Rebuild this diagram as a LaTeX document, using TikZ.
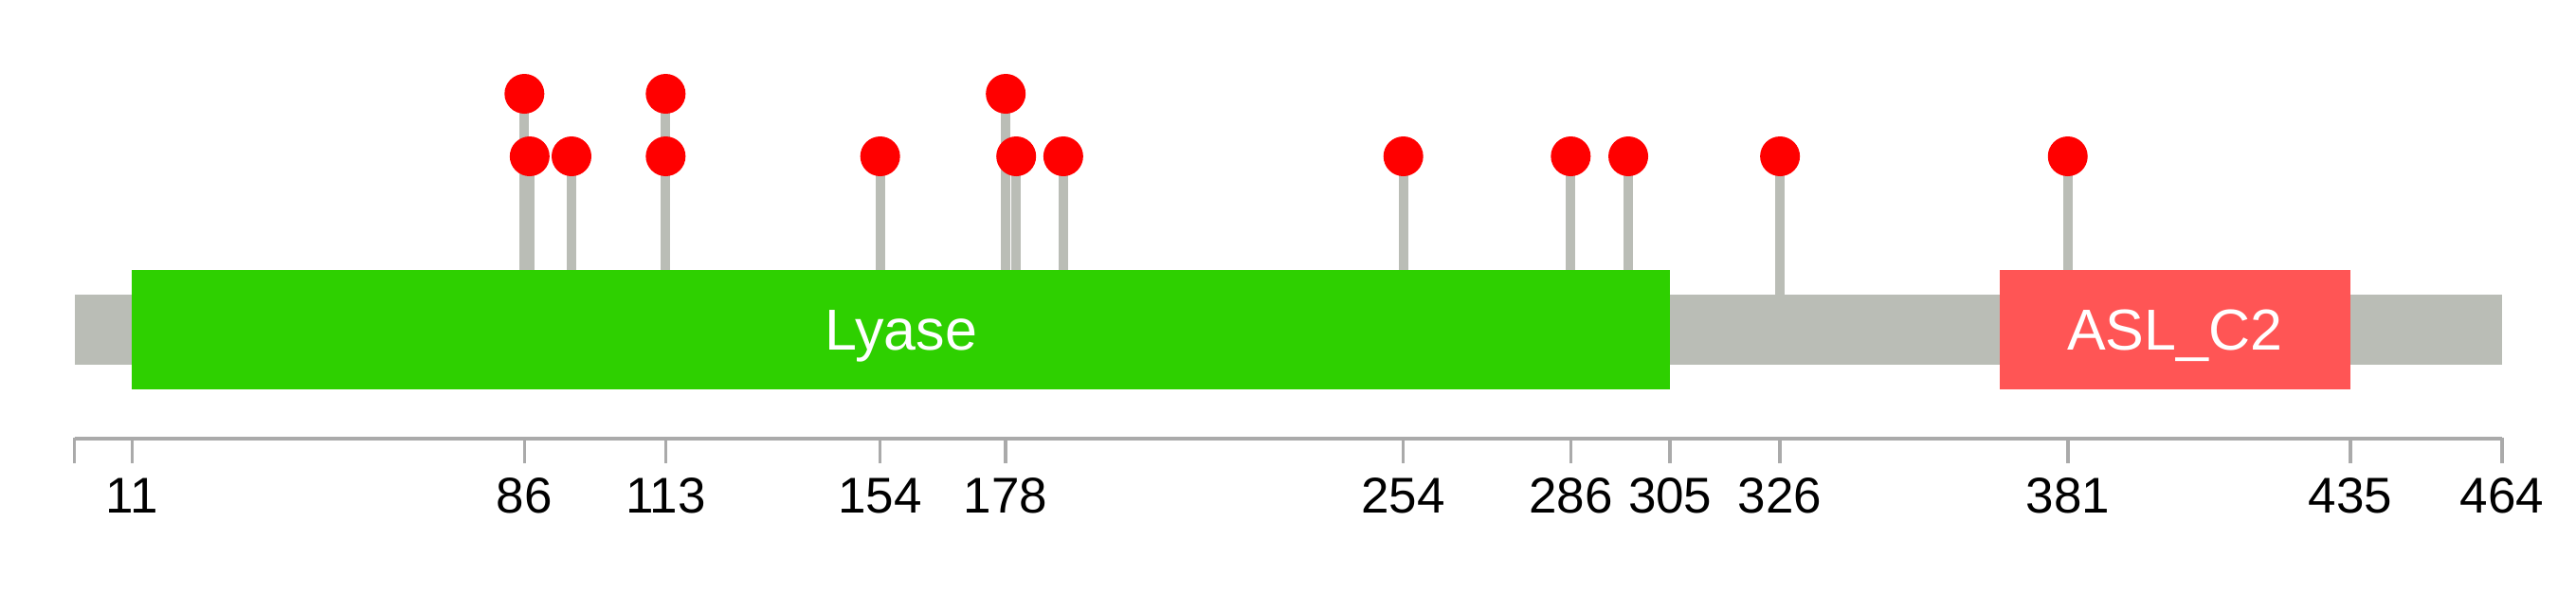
\documentclass[tikz,border=0pt]{standalone}
\usepackage{fontspec}
\setmainfont{Liberation Sans}
\usepackage{xcolor}
\usetikzlibrary{backgrounds}
\definecolor{backbone}{HTML}{BABDB6}
\definecolor{lyasegreen}{HTML}{2ED000}
\definecolor{aslred}{HTML}{FF5555}
\definecolor{axisgray}{HTML}{AAAAAA}

\begin{document}
\begin{tikzpicture}[x=2.76pt, y=-0.5pt]
	    \tikzstyle{mutdot}=[circle, fill=red, minimum size=21pt, inner sep=0pt]
	    \tikzstyle{stemline}=[draw, line width=5pt, backbone]
	    \tikzstyle{tickline}=[draw, line width=1.75pt, axisgray]
	    \tikzstyle{ticknum}=[font=\fontsize{26.5}{30}\selectfont, anchor=base, inner sep=0pt]
	    \tikzstyle{domname}=[font=\fontsize{30.5}{34}\selectfont, text=white, anchor=base, inner sep=0pt]
	    \useasboundingbox (-14.24,0) rectangle (478.15,645);
	    % mutations
	    \node[mutdot] (86) at (86,99) {};
	    \node[mutdot] (87) at (87,165) {};
	    \node[mutdot] (95) at (95,165) {};
	    \node[mutdot] (113a) at (113,99) {};
	    \node[mutdot] (113b) at (113,165) {};
	    \node[mutdot] (154) at (154,165) {};
	    \node[mutdot] (178) at (178,99) {};
	    \node[mutdot] (180) at (180,165) {};
	    \node[mutdot] (189) at (189,165) {};
	    \node[mutdot] (254) at (254,165) {};
	    \node[mutdot] (286) at (286,165) {};
	    \node[mutdot] (297) at (297,165) {};
	    \node[mutdot] (326) at (326,165) {};
	    \node[mutdot] (381) at (381,165) {};
	    \coordinate (f86) at (86,285);
	    \coordinate (f87) at (87,285);
	    \coordinate (f95) at (95,285);
	    \coordinate (f113) at (113,285);
	    \coordinate (f154) at (154,285);
	    \coordinate (f178) at (178,285);
	    \coordinate (f180) at (180,285);
	    \coordinate (f189) at (189,285);
	    \coordinate (f254) at (254,285);
	    \coordinate (f286) at (286,285);
	    \coordinate (f297) at (297,285);
	    \coordinate (f326) at (326,311);
	    \coordinate (f381) at (381,285);
	    \begin{scope}[on background layer]
	    \fill[backbone] (0,311) rectangle (464,385);
	    \fill[lyasegreen] (11,285) rectangle (305,411);
	    \fill[aslred] (368,285) rectangle (435,411);
	    \draw[stemline] (86.center) -- (f86);
	    \draw[stemline] (87.center) -- (f87);
	    \draw[stemline] (95.center) -- (f95);
	    \draw[stemline] (113a.center) -- (f113);
	    \draw[stemline] (113b.center) -- (f113);
	    \draw[stemline] (154.center) -- (f154);
	    \draw[stemline] (178.center) -- (f178);
	    \draw[stemline] (180.center) -- (f180);
	    \draw[stemline] (189.center) -- (f189);
	    \draw[stemline] (254.center) -- (f254);
	    \draw[stemline] (286.center) -- (f286);
	    \draw[stemline] (297.center) -- (f297);
	    \draw[stemline] (326.center) -- (f326);
	    \draw[stemline] (381.center) -- (f381);
	    \end{scope}
	    \node[domname] (lyase) at (158,369) {Lyase};
	    \node[domname] (asl) at (401.5,369) {ASL\_C2};
	    % scale
	    \draw[line width=2.25pt, axisgray] (0,463) -- (464,463);
	    \draw[tickline] (0,462) -- (0,489);
	    \draw[tickline] (11,462) -- (11,489);
	    \draw[tickline] (86,462) -- (86,489);
	    \draw[tickline] (113,462) -- (113,489);
	    \draw[tickline] (154,462) -- (154,489);
	    \draw[tickline] (178,462) -- (178,489);
	    \draw[tickline] (254,462) -- (254,489);
	    \draw[tickline] (286,462) -- (286,489);
	    \draw[tickline] (305,462) -- (305,489);
	    \draw[tickline] (326,462) -- (326,489);
	    \draw[tickline] (381,462) -- (381,489);
	    \draw[tickline] (435,462) -- (435,489);
	    \draw[tickline] (464,462) -- (464,489);
	    \node[ticknum] (t11) at (11,541.5) {11};
	    \node[ticknum] (t86) at (86,541.5) {86};
	    \node[ticknum] (t113) at (113,541.5) {113};
	    \node[ticknum] (t154) at (154,541.5) {154};
	    \node[ticknum] (t178) at (178,541.5) {178};
	    \node[ticknum] (t254) at (254,541.5) {254};
	    \node[ticknum] (t286) at (286,541.5) {286};
	    \node[ticknum] (t305) at (305,541.5) {305};
	    \node[ticknum] (t326) at (326,541.5) {326};
	    \node[ticknum] (t381) at (381,541.5) {381};
	    \node[ticknum] (t435) at (435,541.5) {435};
	    \node[ticknum] (t464) at (464,541.5) {464};
	\end{tikzpicture}
\end{document}
